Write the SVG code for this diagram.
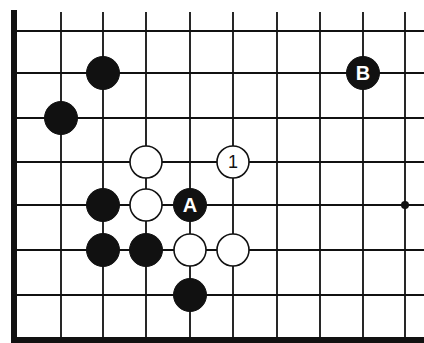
<svg xmlns="http://www.w3.org/2000/svg" width="424" height="343" viewBox="0 0 424 343">
<style>
.g{stroke:#111;stroke-width:1.8;fill:none}
.e{fill:#111}
.b{fill:#111;stroke:#111;stroke-width:1}
.w{fill:#fff;stroke:#111;stroke-width:1.6}
.lb{font-family:"Liberation Sans",Arial,sans-serif;font-size:20px;font-weight:bold;text-anchor:middle}
.lw{font-family:"Liberation Sans",Arial,sans-serif;font-size:18px;text-anchor:middle;fill:#111}
</style>
<rect width="424" height="343" fill="#fff"/>
<g id="board">
<g class="g">
<path d="M61 12V338M103 12V338M146 12V338M190 12V338M233 12V338M277 12V338M320 12V338M363 12V338M405 12V338"/>
<path d="M14 31H424M14 73H424M14 118H424M14 162H424M14 205H424M14 250H424M14 295H424"/>
</g>
<rect class="e" x="11" y="10" width="6" height="333"/>
<rect class="e" x="11" y="337" width="413" height="6"/>
<circle class="e" cx="405" cy="205" r="4"/>
</g>
<g id="b1"><circle class="b" cx="103" cy="73" r="16.5"/></g>
<g id="b2"><circle class="b" cx="61" cy="118" r="16.5"/></g>
<g id="b3"><circle class="b" cx="103" cy="205" r="16.5"/></g>
<g id="b4"><circle class="b" cx="103" cy="250" r="16.5"/></g>
<g id="b5"><circle class="b" cx="146" cy="250" r="16.5"/></g>
<g id="b6"><circle class="b" cx="190" cy="295" r="16.5"/></g>
<g id="bA"><circle class="b" cx="190" cy="205" r="16.5"/><text class="lb" x="190" y="212" fill="#fff">A</text></g>
<g id="bB"><circle class="b" cx="363" cy="73" r="16.5"/><text class="lb" x="363" y="80" fill="#fff">B</text></g>
<g id="w1"><circle class="w" cx="146" cy="162" r="16"/></g>
<g id="w2"><circle class="w" cx="146" cy="205" r="16"/></g>
<g id="w3"><circle class="w" cx="190" cy="250" r="16"/></g>
<g id="w4"><circle class="w" cx="233" cy="250" r="16"/></g>
<g id="w5"><circle class="w" cx="233" cy="162" r="16"/><text class="lw" x="233" y="168">1</text></g>
</svg>
